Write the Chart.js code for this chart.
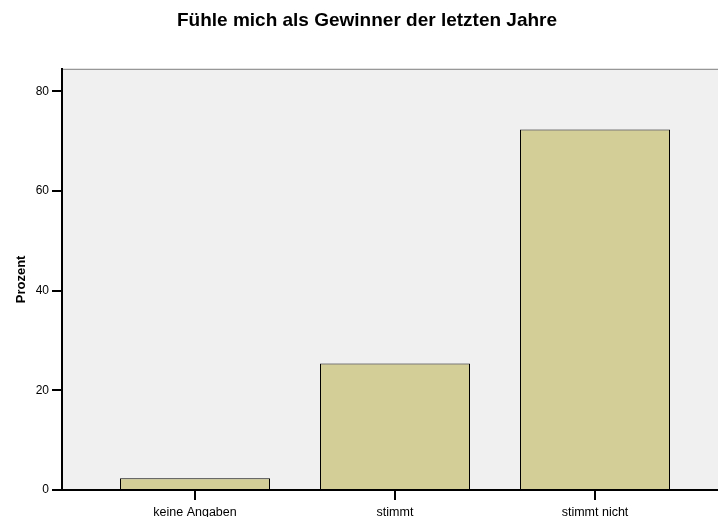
<!DOCTYPE html>
<html>
<head>
<meta charset="utf-8">
<script src="https://cdn.jsdelivr.net/npm/chart.js@4"></script>
<style>
  html, body { margin: 0; padding: 0; background: #fff; overflow: hidden; }
  #wrap { width: 718px; height: 517px; position: relative; }
</style>
</head>
<body>
<div id="wrap"><canvas id="chart"></canvas></div>
<script>
const categories = ['keine Angaben', 'stimmt', 'stimmt nicht'];
const percent    = [2.35, 25.4, 72.3];
const yTicks     = [0, 20, 40, 60, 80];

// plot background + thin grey frame, like the SPSS output
const plotFrame = {
  id: 'plotFrame',
  beforeDraw(chart) {
    const { ctx, chartArea: a } = chart;
    ctx.save();
    ctx.fillStyle = '#f0f0f0';
    ctx.fillRect(a.left, a.top, a.right - a.left, a.bottom - a.top);
    ctx.strokeStyle = '#808080';
    ctx.lineWidth = 1;
    ctx.beginPath();
    ctx.moveTo(a.left, a.top + 0.5);
    ctx.lineTo(a.right, a.top + 0.5);
    ctx.stroke();
    ctx.restore();
  }
};

const FONT = 'Arial, "Liberation Sans", sans-serif';

new Chart(document.getElementById('chart'), {
  type: 'bar',
  data: {
    datasets: [{
      data: categories.map((c, i) => ({ x: i + 1, y: percent[i] })),
      backgroundColor: '#d3ce98',
      borderColor: '#000',
      borderWidth: 1,
      barPercentage: 0.75,
      categoryPercentage: 1.0
    }]
  },
  options: {
    responsive: true,
    maintainAspectRatio: false,
    animation: false,
    // left padding nudges the title right, as in the original
    layout: { padding: { left: 16, right: 0, top: 0, bottom: 0 } },
    plugins: {
      legend: { display: false },
      tooltip: { enabled: false },
      title: {
        display: true,
        text: 'Fühle mich als Gewinner der letzten Jahre',
        color: '#000',
        font: { family: FONT, size: 19, weight: 'bold' },
        padding: { top: 9, bottom: 37 }
      }
    },
    scales: {
      x: {
        type: 'linear',
        offset: false,
        min: 0.335,
        max: 3.615,
        afterBuildTicks: s => { s.ticks = categories.map((c, i) => ({ value: i + 1 })); },
        afterFit: s => { s.height = 27; },
        ticks: {
          color: '#000',
          font: { family: FONT, size: 12.5 },
          padding: 5,
          maxRotation: 0,
          callback: v => categories[v - 1]
        },
        grid: { offset: false, drawOnChartArea: false, color: '#000', lineWidth: 2, tickLength: 10 },
        border: { color: '#000', width: 2 }
      },
      y: {
        min: 0,
        max: 84.5,
        afterBuildTicks: s => { s.ticks = yTicks.map(v => ({ value: v })); },
        afterFit: s => { s.width = 46; },
        ticks: {
          color: '#000',
          font: { family: FONT, size: 12 },
          padding: 3
        },
        grid: { drawOnChartArea: false, color: '#000', lineWidth: 2, tickLength: 10 },
        border: { color: '#000', width: 2 },
        title: {
          display: true,
          text: 'Prozent',
          color: '#000',
          font: { family: FONT, size: 13, weight: 'bold' },
          padding: { top: -2, bottom: 0 }
        }
      }
    }
  },
  plugins: [plotFrame]
});
</script>
</body>
</html>
